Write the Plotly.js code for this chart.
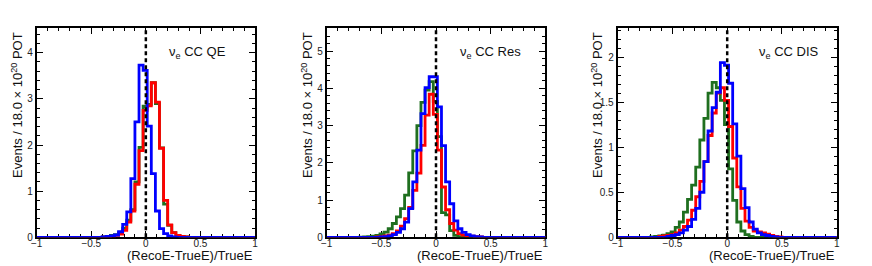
<!DOCTYPE html>
<html>
<head>
<meta charset="utf-8">
<script src="https://cdn.plot.ly/plotly-3.0.1.min.js"></script>
<style>
html,body{margin:0;padding:0;background:#fff;}
#chart{width:872px;height:266px;}
</style>
</head>
<body>
<div id="chart"></div>
<script>
// Histogram binning (bin m covers [binStart + m*binWidth, binStart + (m+1)*binWidth])
const binStart = -1;
const binWidth = 0.0375;
const nBins = 54;

const panelLabels = ["CC QE", "CC Res", "CC DIS"];
const xTitle = "(RecoE-TrueE)/TrueE";
const yTitle = "Events / 18.0 × 10<sup>20</sup> POT";
const yMax = [4.53, 5.61, 2.32];

// Bin contents, listed as {bin index: value}; all other bins are zero
const qeGreen = {16:0.01,17:0.02,18:0.04,19:0.06,20:0.1,21:0.2,22:0.37,23:0.6,24:1.2,25:1.95,26:2.84,27:2.88,28:3.35,29:2.9,30:1.94,31:0.72,32:0.26,33:0.1,34:0.04,35:0.02,36:0.01};
const qeRed   = {16:0.005,17:0.01,18:0.02,19:0.04,20:0.07,21:0.15,22:0.33,23:0.57,24:1.15,25:1.88,26:2.75,27:2.85,28:3.35,29:2.93,30:1.93,31:0.8,32:0.27,33:0.1,34:0.04,35:0.02,36:0.01};
const qeBlue  = {16:0.01,17:0.02,18:0.03,19:0.05,20:0.12,21:0.28,22:0.55,23:1.27,24:2.5,25:3.73,26:3.62,27:2.41,28:1.38,29:0.57,30:0.19,31:0.08,32:0.03,33:0.01};

const resGreen = {8:0.005,9:0.01,10:0.015,11:0.03,12:0.05,13:0.09,14:0.14,15:0.23,16:0.37,17:0.55,18:0.77,19:1.13,20:1.73,21:2.32,22:3.0,23:3.62,24:3.95,25:4.18,26:3.65,27:2.7,28:0.66,29:0.6,30:0.18,31:0.05,32:0.02};
const resRed   = {12:0.01,13:0.02,14:0.04,15:0.06,16:0.1,17:0.17,18:0.3,19:0.5,20:0.8,21:1.26,22:1.72,23:2.47,24:3.28,25:3.84,26:3.3,27:2.34,28:1.35,29:0.74,30:0.37,31:0.19,32:0.1,33:0.06,34:0.04,35:0.03,36:0.02,37:0.01};
const resBlue  = {13:0.01,14:0.02,15:0.04,16:0.07,17:0.13,18:0.23,19:0.41,20:0.77,21:1.49,22:2.34,23:3.32,24:4.02,25:4.31,26:4.31,27:3.5,28:2.46,29:1.49,30:0.9,31:0.44,32:0.23,33:0.13,34:0.07,35:0.04,36:0.02,37:0.01};

const disGreen = {8:0.005,9:0.01,10:0.015,11:0.025,12:0.04,13:0.06,14:0.11,15:0.17,16:0.28,17:0.42,18:0.58,19:0.78,20:1.08,21:1.32,22:1.6,23:1.72,24:1.66,25:1.52,26:1.25,27:0.76,28:0.41,29:0.17,30:0.07,31:0.03,32:0.01};
const disRed   = {10:0.01,11:0.015,12:0.02,13:0.03,14:0.05,15:0.08,16:0.12,17:0.19,18:0.3,19:0.45,20:0.62,21:0.84,22:1.13,23:1.38,24:1.6,25:1.66,26:1.52,27:1.23,28:0.88,29:0.56,30:0.32,31:0.18,32:0.11,33:0.07,34:0.06,35:0.05,36:0.035,37:0.02,38:0.01,39:0.005};
const disBlue  = {12:0.01,13:0.02,14:0.03,15:0.05,16:0.08,17:0.12,18:0.2,19:0.32,20:0.5,21:0.84,22:1.18,23:1.44,24:1.61,25:1.94,26:1.91,27:1.71,28:1.26,29:0.9,30:0.54,31:0.33,32:0.17,33:0.09,34:0.05,35:0.03,36:0.02,37:0.01,38:0.005};

const colGreen = "#1f6f1f";
const colRed = "#ff0000";
const colBlue = "#0000ff";

function stepTrace(vals, color, ax) {
  const x = [], y = [];
  for (let m = 0; m < nBins; m++) {
    x.push(binStart + m * binWidth);
    y.push(vals[m] || 0);
  }
  x.push(binStart + nBins * binWidth);
  y.push(vals[nBins - 1] || 0);
  return {
    type: "scatter", mode: "lines", x: x, y: y,
    line: {shape: "hv", color: color, width: 2.8},
    xaxis: "x" + ax, yaxis: "y" + ax, hoverinfo: "skip", showlegend: false
  };
}

const panels = [[qeGreen, qeRed, qeBlue], [resGreen, resRed, resBlue], [disGreen, disRed, disBlue]];
const data = [];
panels.forEach((p, i) => {
  const ax = i === 0 ? "" : String(i + 1);
  data.push(stepTrace(p[0], colGreen, ax));
  data.push(stepTrace(p[1], colRed, ax));
  data.push(stepTrace(p[2], colBlue, ax));
});

const W = 872, H = 266;
const xDomPx = [[36.7, 255], [326.7, 545.3], [617.7, 836.7]];
const yDom = [1 - 237.3 / H, 1 - 28.3 / H];
const tickFont = {family: "Liberation Sans, Arial, sans-serif", size: 10, color: "#222"};
const textFont = {family: "Liberation Sans, Arial, sans-serif", size: 13, color: "#111"};

const layout = {
  width: W, height: H,
  margin: {l: 0, r: 0, t: 0, b: 0},
  paper_bgcolor: "#fff", plot_bgcolor: "#fff",
  showlegend: false,
  shapes: [], annotations: []
};

const yDtick = [1, 1, 0.5];
const yMinor = [0.2, 0.2, 0.1];

for (let i = 0; i < 3; i++) {
  const sfx = i === 0 ? "" : String(i + 1);
  const xa = "xaxis" + sfx, ya = "yaxis" + sfx;
  layout[xa] = {
    domain: [xDomPx[i][0] / W, xDomPx[i][1] / W],
    anchor: "y" + sfx,
    range: [-1, 1], tickmode: "linear", tick0: -1, dtick: 0.5,
    ticks: "inside", ticklen: 6, tickwidth: 1, tickcolor: "#000",
    minor: {dtick: 0.1, tick0: -1, ticks: "inside", ticklen: 3, tickcolor: "#000", tickwidth: 1, showgrid: false},
    showline: true, linecolor: "#000", linewidth: 2, mirror: "ticks",
    showgrid: false, zeroline: false, tickfont: tickFont,
    ticklabelstandoff: -4,
    layer: "below traces", fixedrange: true
  };
  layout[ya] = {
    domain: yDom, anchor: "x" + sfx,
    range: [0, yMax[i]], tickmode: "linear", tick0: 0, dtick: yDtick[i],
    ticks: "inside", ticklen: 6, tickwidth: 1, tickcolor: "#000",
    minor: {dtick: yMinor[i], tick0: 0, ticks: "inside", ticklen: 3, tickcolor: "#000", tickwidth: 1, showgrid: false},
    showline: true, linecolor: "#000", linewidth: 2, mirror: "ticks",
    showgrid: false, zeroline: false, tickfont: tickFont,
    layer: "below traces", fixedrange: true
  };
  layout.shapes.push({
    type: "line", xref: "x" + sfx, yref: "y" + sfx + " domain",
    x0: 0, x1: 0, y0: 0, y1: 1,
    line: {color: "#000", width: 2.5, dash: "4px,3px"}
  });
  const panelLeftPx = [0, 290, 580][i];
  layout.annotations.push({
    xref: "paper", yref: "paper", x: (panelLeftPx + 17) / W, y: 1 - 30 / H,
    xanchor: "center", yanchor: "top", textangle: -90, showarrow: false,
    text: yTitle, font: textFont
  });
  layout.annotations.push({
    xref: "paper", yref: "paper", x: xDomPx[i][1] / W, y: 1 - 265 / H,
    xanchor: "right", yanchor: "bottom", showarrow: false,
    text: xTitle, font: textFont
  });
  const labLeft = [167, 458, 757][i];
  layout.annotations.push({
    xref: "paper", yref: "paper", x: labLeft / W, y: 1 - 52 / H,
    xanchor: "left", yanchor: "middle", showarrow: false,
    text: "ν<sub>e</sub> " + panelLabels[i], font: textFont
  });
}

Plotly.newPlot("chart", data, layout, {staticPlot: true, displayModeBar: false});
</script>
</body>
</html>
